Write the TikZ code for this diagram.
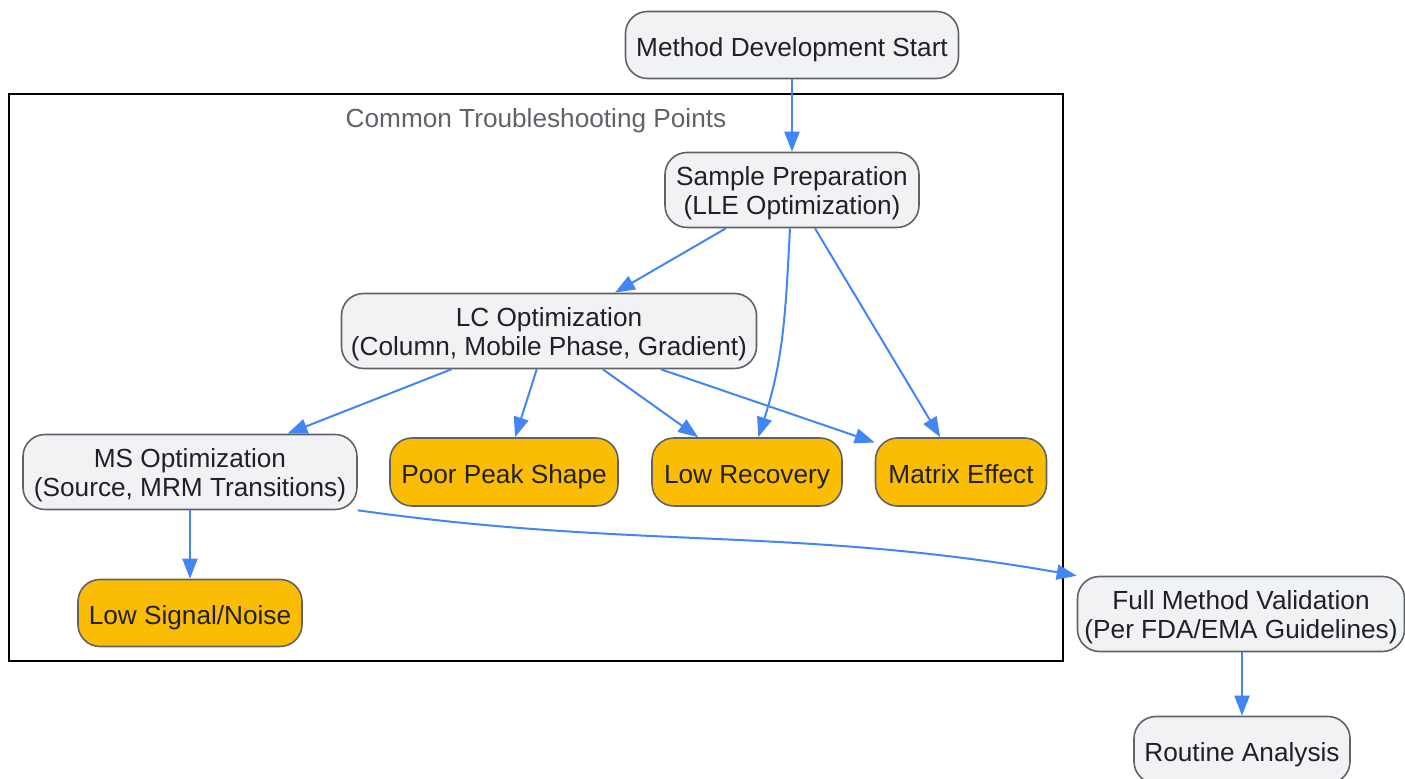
\documentclass[tikz,border=0pt]{standalone}
\usepackage{fontspec}
\setmainfont{Liberation Sans}
\usetikzlibrary{arrows.meta}
\definecolor{nodefill}{HTML}{F1F2F4}
\definecolor{nodeline}{HTML}{5F6368}
\definecolor{issuefill}{HTML}{FBBC04}
\definecolor{flowblue}{HTML}{4285F4}
\definecolor{inktext}{HTML}{202124}

\begin{document}
\begin{tikzpicture}[x=0.5pt, y=-0.5pt,
                   flow/.style={draw=flowblue, line width=1pt,
                   -{Triangle[length=10pt,width=7.5pt]}},
                   every node/.style = {shape=rectangle, align=center,
                   rounded corners=11pt, inner xsep=2pt, text=inktext,
                   font=\fontsize{13.1}{14.5}\selectfont},
                   proc/.style={draw=nodeline, fill=nodefill, line width=0.8pt,
                   minimum height=37.5pt, text height=25pt, text depth=0pt},
                   single/.style={minimum height=33.5pt, text height=12pt, text depth=0.5pt},
                   issue/.style={draw=nodeline, fill=issuefill, line width=0.8pt,
                   minimum height=34pt, text height=12pt, text depth=0.5pt}]
  \useasboundingbox (0,0) rectangle (1405,779);

  % troubleshooting cluster
  \draw[line width=1pt] (9,94) rectangle (1063,661);
  \node[text=nodeline] (clusterlabel) at (536,121) {Common Troubleshooting Points};

  \node[proc, single, minimum width=166.5pt] (start) at (792,45) {Method Development Start};
  \node[proc, minimum width=127pt] (sampleprep) at (792,190) {Sample Preparation\\(LLE Optimization)};
  \node[proc, minimum width=207.5pt] (lcopt) at (549,331) {LC Optimization\\(Column, Mobile Phase, Gradient)};
  \node[proc, minimum width=167pt] (msopt) at (190,472) {MS Optimization\\(Source, MRM Transitions)};
  \node[issue, minimum width=114pt] (peakshape) at (504,472) {Poor Peak Shape};
  \node[issue, minimum width=95pt] (lowrec) at (747,472) {Low Recovery};
  \node[issue, minimum width=85.5pt] (matrix) at (961,472) {Matrix Effect};
  \node[issue, minimum height=33.5pt, minimum width=112pt] (lowsn) at (190,613) {Low Signal/Noise};
  \node[proc, minimum width=163.5pt] (validation) at (1241,614) {Full Method Validation\\(Per FDA/EMA Guidelines)};
  \node[proc, single, minimum width=108pt] (routine) at (1242,750) {Routine Analysis};

  \draw[flow] (start) -- (sampleprep);
  \draw[flow] (sampleprep) -- (lcopt);
  \draw[flow] (sampleprep) to[out=-93,in=72] (lowrec);
  \draw[flow] (sampleprep) -- (matrix);
  \draw[flow] (lcopt) -- (msopt);
  \draw[flow] (lcopt) -- (peakshape);
  \draw[flow] (lcopt) -- (lowrec);
  \draw[flow] (lcopt) -- (matrix);
  \draw[flow] (msopt) -- (lowsn);
  \draw[flow] (msopt.south east) to[out=-8,in=170] (validation.north west);
  \draw[flow] (validation.south -| routine) -- (routine);
\end{tikzpicture}
\end{document}
